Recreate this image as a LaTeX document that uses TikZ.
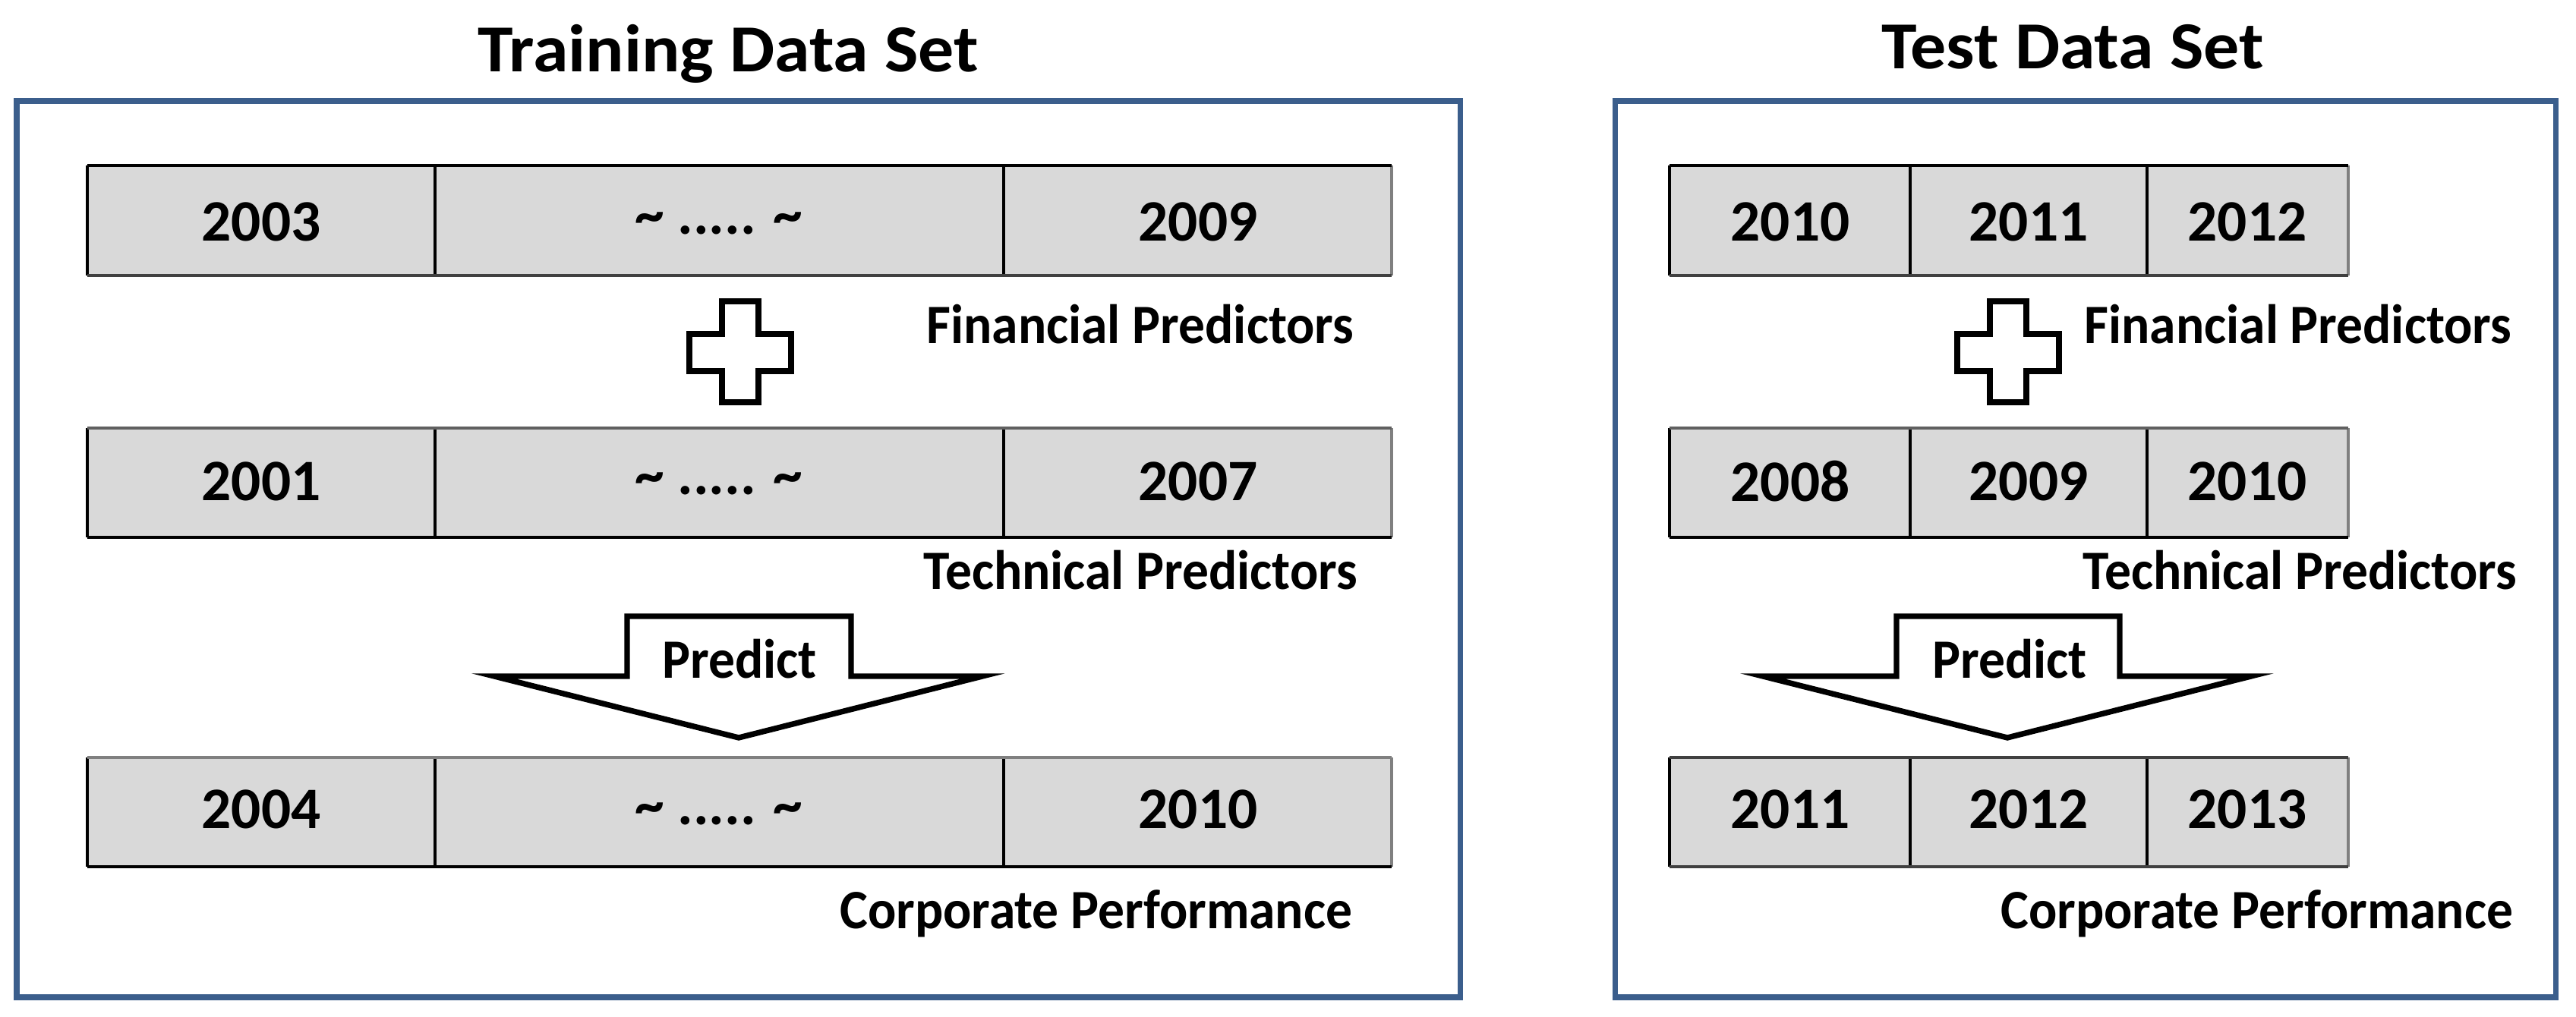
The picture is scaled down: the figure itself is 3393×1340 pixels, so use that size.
\documentclass[tikz,border=0pt]{standalone}
\usepackage{fontspec}
\setmainfont{Carlito}
\newfontfamily\yrfont{Carlito}[FakeStretch=1.0]
\newfontfamily\lblfont{Carlito}[FakeStretch=0.95]
\newfontfamily\ttlfont{Carlito}[FakeStretch=1.06]
\definecolor{frameblue}{HTML}{3B5E8C}
\definecolor{cellgray}{HTML}{D9D9D9}
\definecolor{edgegray}{HTML}{404040}
\definecolor{midgray}{HTML}{606060}
\newcommand\drawrow[8]{%
  \fill[cellgray] (#1,#5) rectangle (#4,#6);
  \draw[rowedge] (#1,#5) -- (#1,#6) (#2,#5) -- (#2,#6) (#3,#5) -- (#3,#6);
  \draw[rowedge, draw=gray] (#4,#5) -- (#4,#6);
  \draw[rowrule, draw=#7] (#1,#5) -- (#4,#5);
  \draw[rowrule, draw=#8] (#1,#6) -- (#4,#6);
}
\begin{document}
\begin{tikzpicture}[x=0.01cm,y=-0.01cm,
  frame/.style={draw=frameblue, line width=2pt},
  rowedge/.style={draw=black, line width=0.9pt},
  rowrule/.style={line width=1.4pt},
  yr/.style={font=\yrfont\bfseries\fontsize{22}{26}\selectfont, inner sep=0pt},
  lbl/.style={font=\lblfont\bfseries\fontsize{20.8}{24}\selectfont, inner sep=0pt},
  ttl/.style={font=\ttlfont\bfseries\fontsize{25.2}{30}\selectfont, inner sep=0pt},
  bigshape/.style={draw=black, fill=white, line width=2.1pt, line join=miter}]
\useasboundingbox (0,0) rectangle (3393,1340);

% titles
\node[ttl, anchor=base] (ttrain) at (959,95) {Training Data Set};
\node[ttl, anchor=base] (ttest) at (2730,91) {Test Data Set};

% frames
\draw[frame] (22,133) rectangle (1923,1314);
\draw[frame] (2127,133) rectangle (3366,1314);

% ---------- training rows ----------
\drawrow{115}{573}{1322}{1833}{218}{363}{black}{edgegray}
\drawrow{115}{573}{1322}{1833}{564}{708}{midgray}{black}
\drawrow{115}{573}{1322}{1833}{998}{1142}{gray}{black}

\node[yr] (a1) at (344,292) {2003};
\node[yr, anchor=base] (a2) at (947,309) {\textasciitilde{} ..... \textasciitilde};
\node[yr] (a3) at (1578,292) {2009};
\node[yr] (b1) at (344,634) {2001};
\node[yr, anchor=base] (b2) at (947,652) {\textasciitilde{} ..... \textasciitilde};
\node[yr] (b3) at (1578,634) {2007};
\node[yr] (c1) at (344,1066) {2004};
\node[yr, anchor=base] (c2) at (947,1086) {\textasciitilde{} ..... \textasciitilde};
\node[yr] (c3) at (1578,1066) {2010};

\node[lbl, anchor=base east] (lfin) at (1784,453) {Financial Predictors};
\node[lbl, anchor=base east] (ltec) at (1789,777) {Technical Predictors};
\node[lbl, anchor=base east] (lcor) at (1782,1223) {Corporate Performance};

% plus
\draw[bigshape] (951,397) -- (999,397) -- (999,440) -- (1042,440) -- (1042,489) -- (999,489)
  -- (999,530) -- (951,530) -- (951,489) -- (908,489) -- (908,440) -- (951,440) -- cycle;
% predict arrow
\draw[bigshape] (826,812) -- (1121,812) -- (1121,891) -- (1294,891) -- (973,972)
  -- (651,891) -- (826,891) -- cycle;
\node[lbl, anchor=base] (lpred) at (974,893) {Predict};

% ---------- test rows ----------
\drawrow{2199}{2516}{2828}{3093}{218}{363}{black}{edgegray}
\drawrow{2199}{2516}{2828}{3093}{564}{708}{midgray}{black}
\drawrow{2199}{2516}{2828}{3093}{998}{1142}{edgegray}{edgegray}

\node[yr] (d1) at (2358,292) {2010};
\node[yr] (d2) at (2672,292) {2011};
\node[yr] (d3) at (2960,292) {2012};
\node[yr] (e1) at (2358,634) {2008};
\node[yr] (e2) at (2672,634) {2009};
\node[yr] (e3) at (2960,634) {2010};
\node[yr] (f1) at (2358,1066) {2011};
\node[yr] (f2) at (2672,1066) {2012};
\node[yr] (f3) at (2960,1066) {2013};

\node[lbl, anchor=base east] (rfin) at (3309,453) {Financial Predictors};
\node[lbl, anchor=base east] (rtec) at (3316,777) {Technical Predictors};
\node[lbl, anchor=base east] (rcor) at (3311,1223) {Corporate Performance};

\draw[bigshape] (2621,397) -- (2669,397) -- (2669,440) -- (2712,440) -- (2712,489) -- (2669,489)
  -- (2669,530) -- (2621,530) -- (2621,489) -- (2578,489) -- (2578,440) -- (2621,440) -- cycle;
\draw[bigshape] (2498,812) -- (2792,812) -- (2792,891) -- (2965,891) -- (2644,972)
  -- (2322,891) -- (2498,891) -- cycle;
\node[lbl, anchor=base] (rpred) at (2647,893) {Predict};
\end{tikzpicture}
\end{document}
